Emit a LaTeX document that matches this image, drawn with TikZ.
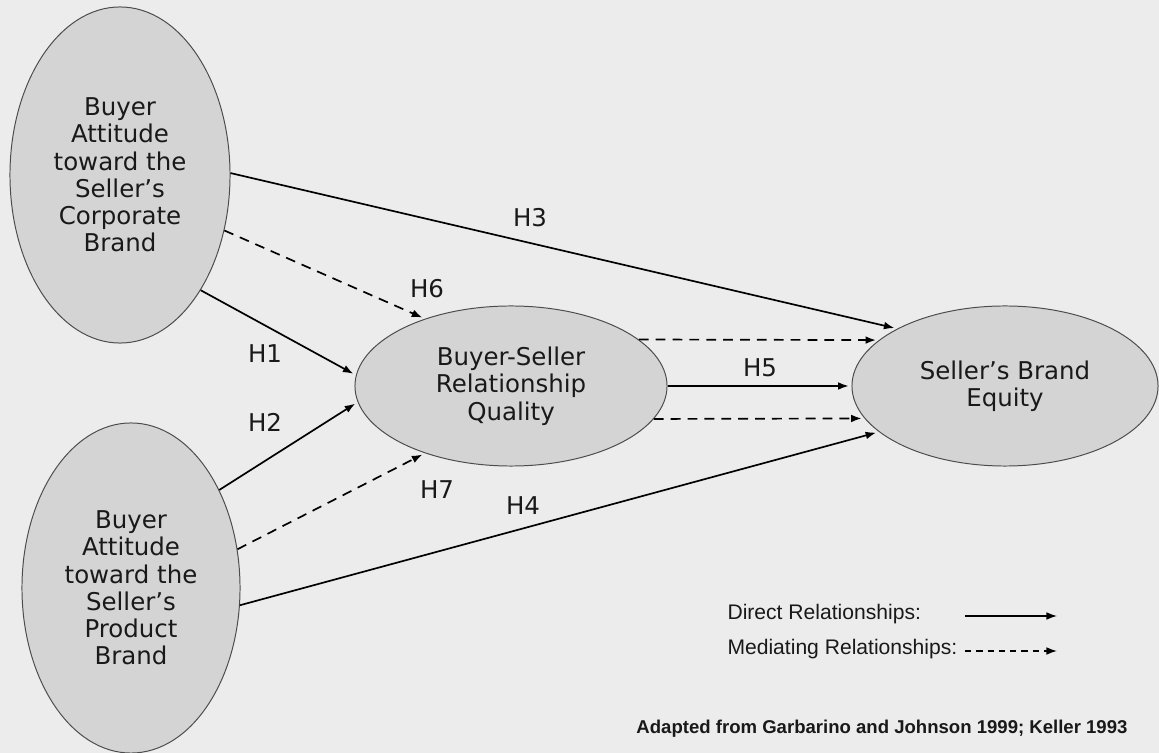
\documentclass[tikz,border=0pt]{standalone}
\usepackage{fontspec}
\setmainfont{DejaVu Sans}
\newfontfamily\arialfont{Liberation Sans}
\usepackage{tikz}
\usetikzlibrary{arrows.meta,shapes.geometric}
\definecolor{paper}{RGB}{236,236,236}
\definecolor{blobfill}{RGB}{212,212,212}
\definecolor{ink}{RGB}{25,25,25}

\begin{document}
\begin{tikzpicture}[x=0.025cm,y=-0.025cm,->,>={Latex[length=7.5pt,width=5.5pt]},
                    shorten >=2pt,line width=1.2pt]
  \tikzstyle{every node}=[text=ink]
  \tikzstyle{construct}=[ellipse,fill=blobfill,draw=black!70,line width=0.7pt,
                         inner sep=0pt,align=center,font=\fontsize{17.4}{19.4}\selectfont]
  \tikzstyle{hyp}=[font=\fontsize{17.4}{19.4}\selectfont]
  \tikzstyle{mediating}=[dash pattern=on 7pt off 5pt]
  \tikzstyle{legend}=[anchor=base west,font=\arialfont\fontsize{15}{18}\selectfont]

  \fill[paper,-] (0,0) rectangle (1159,753);
  \useasboundingbox (0,0) rectangle (1159,753);

  \node[construct,minimum width=5.5cm,minimum height=8.4cm]  (C) at (120,175)
       {Buyer\\Attitude\\toward the\\Seller’s\\Corporate\\Brand};
  \node[construct,minimum width=5.45cm,minimum height=8.25cm] (P) at (131,588)
       {Buyer\\Attitude\\toward the\\Seller’s\\Product\\Brand};
  \node[construct,minimum width=7.8cm,minimum height=4cm]    (Q) at (511,386)
       {Buyer-Seller\\Relationship\\Quality};
  \node[construct,minimum width=7.65cm,minimum height=4cm]   (E) at (1005,386)
       {Seller’s Brand\\Equity};

  \path (C.1)   edge                (E.152)
        (C.-28) edge [mediating]    (Q.142)
        (C.-55) edge                (Q.176)
        (P.48)  edge                (Q.-174)
        (P.20)  edge [mediating]    (Q.-142)
        (P.-9)  edge                (E.200)
        (Q.20)  edge [mediating]    (E.160)
        (Q.0)   edge                (E.180)
        (Q.-13) edge [mediating]    (E.193);

  \node[hyp] (h1) at (265,354) {H1};
  \node[hyp] (h2) at (265,422) {H2};
  \node[hyp] (h3) at (530,218) {H3};
  \node[hyp] (h4) at (523,506) {H4};
  \node[hyp] (h5) at (760,368) {H5};
  \node[hyp] (h6) at (427,289) {H6};
  \node[hyp] (h7) at (437,490) {H7};

  % legend
  \node[legend] (dirtxt) at (722,620) {Direct Relationships:};
  \node[legend] (medtxt) at (722,655) {Mediating Relationships:};
  \coordinate (dirA) at (965,616);
  \coordinate (dirB) at (1057,616);
  \coordinate (medA) at (965,651);
  \coordinate (medB) at (1057,651);
  \draw[line width=1pt,shorten >=0pt] (dirA) -- (dirB);
  \draw[line width=1pt,shorten >=0pt,dash pattern=on 4.5pt off 3.5pt] (medA) -- (medB);

  \node[anchor=base east,font=\arialfont\bfseries\fontsize{13.2}{16}\selectfont] (src)
       at (1133,733) {Adapted from Garbarino and Johnson 1999; Keller 1993};
\end{tikzpicture}
\end{document}
